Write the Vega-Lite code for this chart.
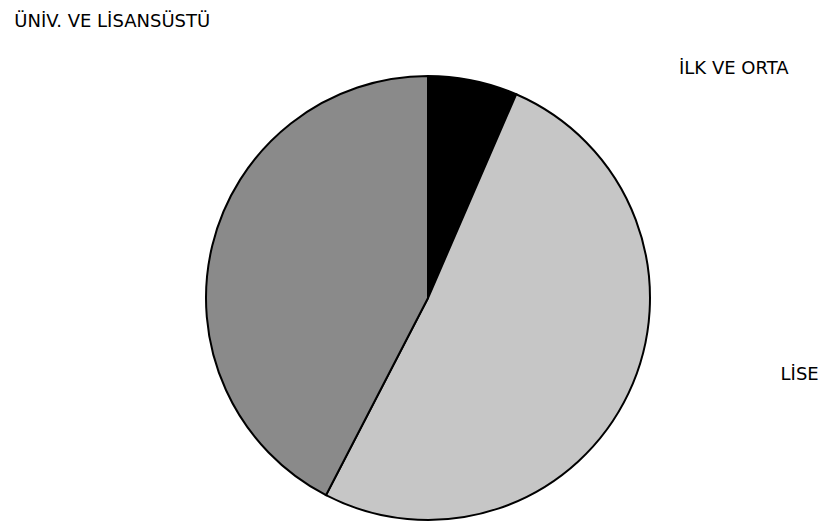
{
  "$schema": "https://vega.github.io/schema/vega-lite/v6.json",
  "width": 818,
  "height": 444,
  "autosize": "none",
  "padding": {"left": 19, "top": 76, "right": 0, "bottom": 3},
  "background": "white",
  "config": {"view": {"stroke": null}},
  "data": {
    "values": [
      {"egitim": "İLK VE ORTA", "yuzde": 6.5, "sira": 1},
      {"egitim": "LİSE", "yuzde": 51.1, "sira": 2},
      {"egitim": "ÜNİV. VE LİSANSÜSTÜ", "yuzde": 42.4, "sira": 3}
    ]
  },
  "encoding": {
    "theta": {"field": "yuzde", "type": "quantitative", "stack": true},
    "order": {"field": "sira", "type": "quantitative"},
    "detail": {"field": "egitim", "type": "nominal"}
  },
  "layer": [
    {
      "mark": {"type": "arc", "radius": 222, "stroke": "#000000", "strokeWidth": 2},
      "encoding": {
        "color": {
          "field": "egitim",
          "type": "nominal",
          "scale": {
            "domain": ["İLK VE ORTA", "LİSE", "ÜNİV. VE LİSANSÜSTÜ"],
            "range": ["#000000", "#c6c6c6", "#8a8a8a"]
          },
          "legend": null
        }
      }
    },
    {
      "mark": {"type": "text", "radius": 222, "dx": 206, "dy": -7, "align": "left", "baseline": "alphabetic", "font": "DejaVu Sans", "fontSize": 18, "color": "#000000"},
      "encoding": {
        "text": {"condition": {"test": "datum.sira == 1", "field": "egitim"}, "value": ""}
      }
    },
    {
      "mark": {"type": "text", "radius": 222, "dx": 152, "dy": -13, "align": "left", "baseline": "alphabetic", "font": "DejaVu Sans", "fontSize": 18, "color": "#000000"},
      "encoding": {
        "text": {"condition": {"test": "datum.sira == 2", "field": "egitim"}, "value": ""}
      }
    },
    {
      "mark": {"type": "text", "radius": 222, "dx": -198, "dy": -218, "align": "left", "baseline": "alphabetic", "font": "DejaVu Sans", "fontSize": 18, "color": "#000000"},
      "encoding": {
        "text": {"condition": {"test": "datum.sira == 3", "field": "egitim"}, "value": ""}
      }
    }
  ]
}
